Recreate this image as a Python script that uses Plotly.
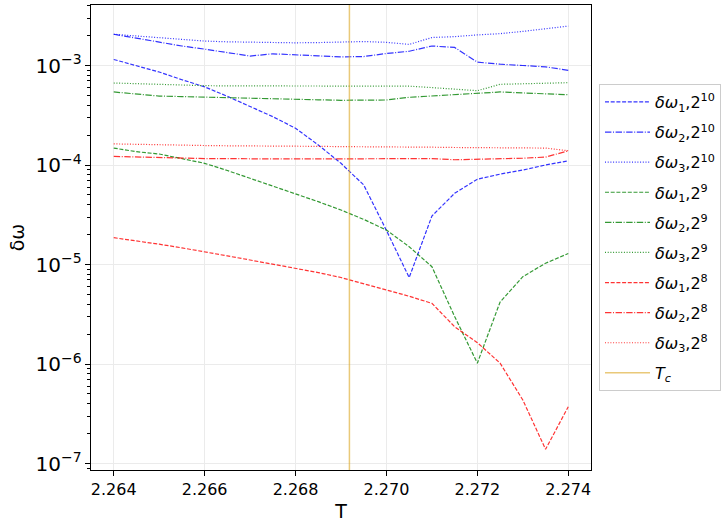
import numpy as np
import plotly.graph_objects as go

T = [2.264, 2.2645, 2.265, 2.2655, 2.266, 2.2665, 2.267, 2.2675, 2.268, 2.2685, 2.269,
     2.2695, 2.270, 2.2705, 2.271, 2.2715, 2.272, 2.2725, 2.273, 2.2735, 2.274]

d1_10 = [1.15e-3, 1.0e-3, 8.6e-4, 7.2e-4, 6.1e-4, 4.9e-4, 3.9e-4, 3.06e-4, 2.34e-4, 1.59e-4, 1.04e-4,
         6.3e-5, 2.2e-5, 7.4e-6, 3.07e-5, 5.2e-5, 7.2e-5, 8.1e-5, 8.9e-5, 1.0e-4, 1.1e-4]
d2_10 = [2.06e-3, 1.88e-3, 1.70e-3, 1.57e-3, 1.46e-3, 1.35e-3, 1.245e-3, 1.31e-3, 1.27e-3, 1.25e-3, 1.22e-3,
         1.23e-3, 1.32e-3, 1.39e-3, 1.57e-3, 1.52e-3, 1.08e-3, 1.03e-3, 1.0e-3, 0.97e-3, 0.895e-3]
d3_10 = [2.06e-3, 1.98e-3, 1.90e-3, 1.82e-3, 1.76e-3, 1.73e-3, 1.71e-3, 1.70e-3, 1.69e-3, 1.70e-3, 1.71e-3,
         1.74e-3, 1.71e-3, 1.63e-3, 1.91e-3, 1.95e-3, 2.03e-3, 2.09e-3, 2.2e-3, 2.33e-3, 2.49e-3]

d1_9 = [1.48e-4, 1.36e-4, 1.29e-4, 1.16e-4, 1.04e-4, 8.8e-5, 7.35e-5, 6.2e-5, 5.2e-5, 4.28e-5, 3.53e-5,
        2.84e-5, 2.22e-5, 1.51e-5, 9.5e-6, 3.0e-6, 1.02e-6, 4.2e-6, 7.55e-6, 1.03e-5, 1.29e-5]
d2_9 = [5.42e-4, 5.15e-4, 4.93e-4, 4.87e-4, 4.8e-4, 4.72e-4, 4.65e-4, 4.6e-4, 4.57e-4, 4.52e-4, 4.47e-4,
        4.48e-4, 4.5e-4, 4.79e-4, 4.94e-4, 5.08e-4, 5.25e-4, 5.42e-4, 5.3e-4, 5.18e-4, 5.09e-4]
d3_9 = [6.67e-4, 6.55e-4, 6.42e-4, 6.33e-4, 6.27e-4, 6.24e-4, 6.22e-4, 6.2e-4, 6.2e-4, 6.2e-4, 6.2e-4,
        6.21e-4, 6.22e-4, 6.2e-4, 6.0e-4, 5.8e-4, 5.58e-4, 6.47e-4, 6.55e-4, 6.63e-4, 6.72e-4]

d1_8 = [1.86e-5, 1.73e-5, 1.6e-5, 1.47e-5, 1.35e-5, 1.22e-5, 1.11e-5, 1.01e-5, 9.2e-6, 8.3e-6, 7.4e-6,
        6.4e-6, 5.55e-6, 4.8e-6, 4.07e-6, 2.37e-6, 1.64e-6, 1.02e-6, 4.35e-7, 1.39e-7, 3.72e-7]
d2_8 = [1.22e-4, 1.2e-4, 1.18e-4, 1.17e-4, 1.16e-4, 1.16e-4, 1.15e-4, 1.15e-4, 1.15e-4, 1.15e-4, 1.15e-4,
        1.15e-4, 1.16e-4, 1.16e-4, 1.16e-4, 1.13e-4, 1.14e-4, 1.15e-4, 1.17e-4, 1.2e-4, 1.39e-4]
d3_8 = [1.63e-4, 1.61e-4, 1.59e-4, 1.58e-4, 1.57e-4, 1.56e-4, 1.56e-4, 1.55e-4, 1.55e-4, 1.54e-4, 1.53e-4,
        1.53e-4, 1.52e-4, 1.51e-4, 1.51e-4, 1.5e-4, 1.49e-4, 1.49e-4, 1.48e-4, 1.48e-4, 1.39e-4]

Tc = 2.0 / np.log(1.0 + np.sqrt(2.0))

x_ticks = [2.264, 2.266, 2.268, 2.270, 2.272, 2.274]

DASH = "4px,1.7px"
DASHDOT = "6.4px,1.6px,1px,1.6px"
DOT = "1px,1.7px"

series = [
    (d1_10, "<i>δω</i><sub>1</sub>,2<sup>10</sup>", "rgba(0,0,255,0.8)", DASH),
    (d2_10, "<i>δω</i><sub>2</sub>,2<sup>10</sup>", "rgba(0,0,255,0.8)", DASHDOT),
    (d3_10, "<i>δω</i><sub>3</sub>,2<sup>10</sup>", "rgba(0,0,255,0.8)", DOT),
    (d1_9, "<i>δω</i><sub>1</sub>,2<sup>9</sup>", "rgba(0,128,0,0.8)", DASH),
    (d2_9, "<i>δω</i><sub>2</sub>,2<sup>9</sup>", "rgba(0,128,0,0.8)", DASHDOT),
    (d3_9, "<i>δω</i><sub>3</sub>,2<sup>9</sup>", "rgba(0,128,0,0.8)", DOT),
    (d1_8, "<i>δω</i><sub>1</sub>,2<sup>8</sup>", "rgba(255,0,0,0.8)", DASH),
    (d2_8, "<i>δω</i><sub>2</sub>,2<sup>8</sup>", "rgba(255,0,0,0.8)", DASHDOT),
    (d3_8, "<i>δω</i><sub>3</sub>,2<sup>8</sup>", "rgba(255,0,0,0.8)", DOT),
]

fig = go.Figure()
for i, (vals, name, col, dash) in enumerate(series):
    fig.add_trace(go.Scatter(x=T, y=vals, mode="lines", name=name, legendgroup=f"g{i}",
                             line=dict(color=col, width=1.2, dash=dash)))

fig.add_trace(go.Scatter(x=[Tc, Tc], y=[0, 1], yaxis="y2", mode="lines", legendgroup="tc",
                         name="<i>T</i><sub><i>c</i></sub>",
                         line=dict(color="rgba(218,165,32,0.6)", width=1.5)))

FONT = "DejaVu Sans"
fig.update_layout(
    width=724, height=523,
    margin=dict(l=91, r=133, t=5, b=53, autoexpand=False),
    plot_bgcolor="white", paper_bgcolor="white",
    font=dict(family=FONT, size=16, color="black"),
    showlegend=True,
    legend=dict(x=1.016, y=0.83, xanchor="left", yanchor="top",
                bordercolor="#cccccc", borderwidth=1, bgcolor="rgba(255,255,255,0.8)",
                tracegroupgap=6.3, itemwidth=45,
                font=dict(family=FONT, size=16)),
    xaxis=dict(range=[2.2635, 2.2745], tickvals=x_ticks, tickformat=".3f",
               showgrid=True, gridcolor="#ebebeb", gridwidth=1,
               showline=True, linecolor="black", linewidth=1.2, mirror=True,
               ticks="outside", ticklen=5, tickcolor="black", zeroline=False,
               title=dict(text="T", standoff=6)),
    yaxis=dict(type="log", range=[-7.065, -2.392], dtick=1, exponentformat="power",
               showgrid=True, gridcolor="#ebebeb", gridwidth=1,
               showline=True, linecolor="black", linewidth=1.2, mirror=True,
               ticks="outside", ticklen=5, tickcolor="black", zeroline=False,
               minor=dict(ticks="outside", ticklen=2.5, tickcolor="black", dtick="D1", showgrid=False),
               title=dict(text="δω", standoff=5)),
    yaxis2=dict(range=[0, 1], overlaying="y", visible=False),
)

fig.write_html("out.html", config={"displayModeBar": False},
               post_script="document.body.style.margin='0';document.body.style.padding='0';")
